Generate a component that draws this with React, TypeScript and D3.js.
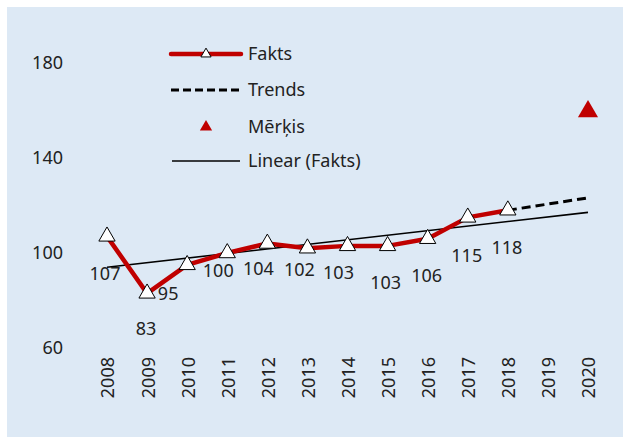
import React from "react";
import * as d3 from "d3";

const years = ["2008","2009","2010","2011","2012","2013","2014","2015","2016","2017","2018","2019","2020"];
const faktsValues = [107, 83, 95, 100, 104, 102, 103, 103, 106, 115, 118];
const trendYears = ["2018", "2019", "2020"];
const trendValues = [118, 120.6, 123.2];
const targetYear = "2020";
const targetValue = 160;
const linearYears = ["2008", "2020"];
const linearValues = [94, 117.1];
const yTicks = [60, 100, 140, 180];
const legendLabels = ["Fakts", "Trends", "Mērķis", "Linear (Fakts)"];
// label placement offsets (px) relative to each point, as placed in the source
const labelOffsets: [number, number][] = [
  [-2, 37], [-1, 35], [-19, 29], [-9, 18], [-9, 25], [-8, 21],
  [-9, 27], [-2, 37], [-1, 37], [-1, 38], [-1, 37],
];

const W = 623, H = 437;
const RED = "#c00000";
const FONT = "'Noto Sans', sans-serif";

export default function App() {
  const x = d3.scalePoint<string>().domain(years).range([107, 588]);
  const y = d3.scaleLinear().domain([60, 180]).range([348, 63]);
  const line = d3.line<[string, number]>().x(d => x(d[0])!).y(d => y(d[1]));
  const fakts: [string, number][] = faktsValues.map((v, i) => [years[i], v]);
  const trend: [string, number][] = trendValues.map((v, i) => [trendYears[i], v]);
  const linear: [string, number][] = linearValues.map((v, i) => [linearYears[i], v]);
  const tri = d3.symbol(d3.symbolTriangle, 115)()!;
  const triSmall = d3.symbol(d3.symbolTriangle, 45)()!;
  const triTarget = d3.symbol(d3.symbolTriangle, 175)()!;
  const triLegendTarget = d3.symbol(d3.symbolTriangle, 65)()!;
  const legendX1 = 171, legendX2 = 241, legendTextX = 248;
  const legendY = [54, 90, 127, 161];

  return (
    <svg width={W} height={H} style={{ position: "absolute", left: 0, top: 0 }} fontFamily={FONT}>
      <rect x={0} y={0} width={W} height={H} fill="#ffffff" />
      <rect x={7} y={7} width={W - 7} height={H - 7} fill="#dde9f5" />
      {/* y tick labels */}
      {yTicks.map(t => (
        <text key={t} x={63} y={y(t)} dy="0.36em" textAnchor="end" fontSize={18} fill="#222">{t}</text>
      ))}
      {/* x tick labels */}
      {years.map(yr => (
        <text key={yr} transform={`translate(${x(yr)! + 1},357) rotate(-90)`} dy="0.36em" textAnchor="end" fontSize={18} fill="#222">{yr}</text>
      ))}
      {/* linear trendline */}
      <path d={line(linear)!} fill="none" stroke="#000" strokeWidth={1.6} />
      {/* trend dashed */}
      <path d={line(trend)!} fill="none" stroke="#000" strokeWidth={3} strokeDasharray="9,5" />
      {/* fakts line */}
      <path d={line(fakts)!} fill="none" stroke={RED} strokeWidth={4.5} strokeLinejoin="round" />
      {fakts.map(([yr, v]) => (
        <path key={yr} d={tri} transform={`translate(${x(yr)},${y(v)})`} fill="#fff" stroke="#000" strokeWidth={1} />
      ))}
      {/* target */}
      <path d={triTarget} transform={`translate(${x(targetYear)},${y(targetValue) + 1})`} fill={RED} />
      {/* data labels */}
      {fakts.map(([yr, v], i) => (
        <text key={"l" + yr} x={x(yr)! + labelOffsets[i][0]} y={y(v) + labelOffsets[i][1]} dy="0.36em" textAnchor="middle" fontSize={18} fill="#222">{v}</text>
      ))}
      {/* legend */}
      <line x1={legendX1} x2={legendX2} y1={legendY[0]} y2={legendY[0]} stroke={RED} strokeWidth={4.5} strokeLinecap="round" />
      <path d={triSmall} transform={`translate(206,${legendY[0]})`} fill="#fff" stroke="#000" strokeWidth={1} />
      <line x1={legendX1} x2={legendX2} y1={legendY[1]} y2={legendY[1]} stroke="#000" strokeWidth={3} strokeDasharray="8,4" />
      <path d={triLegendTarget} transform={`translate(206,${legendY[2]})`} fill={RED} />
      <line x1={legendX1 + 1} x2={legendX2 - 1} y1={legendY[3]} y2={legendY[3]} stroke="#000" strokeWidth={1.6} />
      {legendLabels.map((l, i) => (
        <text key={l} x={legendTextX} y={legendY[i]} dy="0.36em" fontSize={18} fill="#222">{l}</text>
      ))}
    </svg>
  );
}
